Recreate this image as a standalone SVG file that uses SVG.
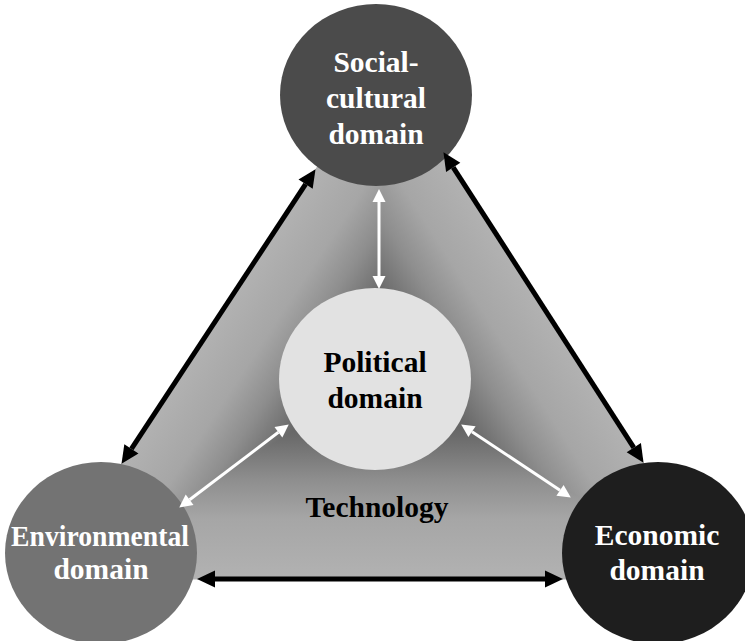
<svg xmlns="http://www.w3.org/2000/svg" width="745" height="641" viewBox="0 0 745 641">
  <defs>
    <style>
      .lbl { font-family: "Liberation Serif", "Times New Roman", serif; font-weight: bold; font-size: 29.5px; text-anchor: middle; }
      .w { fill: #ffffff; }
      .k { fill: #000000; }
      .blk { stroke: #000000; stroke-width: 5; fill: none; marker-start: url(#hk); marker-end: url(#hk); }
      .wht { stroke: #ffffff; stroke-width: 3; fill: none; marker-start: url(#hw); marker-end: url(#hw); }
    </style>
    <marker id="hk" markerUnits="userSpaceOnUse" markerWidth="18" markerHeight="18" viewBox="0 -8 17 16" refX="0" refY="0" orient="auto-start-reverse" overflow="visible">
      <path d="M0,-8 L17,0 L0,8 Z" fill="#000000"/>
    </marker>
    <marker id="hw" markerUnits="userSpaceOnUse" markerWidth="13" markerHeight="13" viewBox="0 -6 12 12" refX="0" refY="0" orient="auto-start-reverse" overflow="visible">
      <path d="M0,-6 L12,0 L0,6 Z" fill="#ffffff"/>
    </marker>
    <linearGradient id="gL" gradientUnits="userSpaceOnUse" x1="380" y1="380" x2="238" y2="286.5">
      <stop offset="0" stop-color="#4a4a4a"/>
      <stop offset="0.28" stop-color="#6a6a6a"/>
      <stop offset="0.5" stop-color="#8e8e8e"/>
      <stop offset="0.7" stop-color="#a6a6a6"/>
      <stop offset="1" stop-color="#b2b2b2"/>
    </linearGradient>
    <linearGradient id="gR" gradientUnits="userSpaceOnUse" x1="380" y1="380" x2="528.8" y2="284.2">
      <stop offset="0" stop-color="#4a4a4a"/>
      <stop offset="0.28" stop-color="#6a6a6a"/>
      <stop offset="0.5" stop-color="#8e8e8e"/>
      <stop offset="0.7" stop-color="#a6a6a6"/>
      <stop offset="1" stop-color="#b2b2b2"/>
    </linearGradient>
    <linearGradient id="gB" gradientUnits="userSpaceOnUse" x1="380" y1="380" x2="380" y2="579">
      <stop offset="0" stop-color="#4a4a4a"/>
      <stop offset="0.28" stop-color="#6a6a6a"/>
      <stop offset="0.5" stop-color="#8e8e8e"/>
      <stop offset="0.7" stop-color="#a6a6a6"/>
      <stop offset="1" stop-color="#b2b2b2"/>
    </linearGradient>
  </defs>

  <g id="technology">
    <polygon points="386,63 45.6,579 718,579" fill="#8a8a8a"/>
    <polygon points="380,380 386,63 45.6,579" fill="url(#gL)" stroke="url(#gL)" stroke-width="1"/>
    <polygon points="380,380 386,63 718,579" fill="url(#gR)" stroke="url(#gR)" stroke-width="1"/>
    <polygon points="380,380 45.6,579 718,579" fill="url(#gB)" stroke="url(#gB)" stroke-width="1"/>
    <text class="lbl k" x="377" y="517">Technology</text>
  </g>

  <g id="social-cultural">
    <ellipse cx="376" cy="95" rx="96" ry="91" fill="#4b4b4b"/>
    <text class="lbl w" x="376" y="72">Social-</text>
    <text class="lbl w" x="376" y="108">cultural</text>
    <text class="lbl w" x="376" y="144">domain</text>
  </g>

  <g id="political">
    <ellipse cx="375" cy="379" rx="96" ry="91" fill="#e2e2e2"/>
    <text class="lbl k" x="375" y="372">Political</text>
    <text class="lbl k" x="375" y="408">domain</text>
  </g>

  <g id="environmental">
    <ellipse cx="101" cy="553" rx="96" ry="91" fill="#737373"/>
    <text class="lbl w" x="100" y="546" textLength="178" lengthAdjust="spacingAndGlyphs">Environmental</text>
    <text class="lbl w" x="101" y="579">domain</text>
  </g>

  <g id="economic">
    <ellipse cx="658" cy="553" rx="96" ry="91" fill="#1e1e1e"/>
    <text class="lbl w" x="657" y="545">Economic</text>
    <text class="lbl w" x="657" y="580">domain</text>
  </g>

  <g id="connectors">
    <line class="blk" x1="131.4" y1="448.8" x2="305.6" y2="184.2"/>
    <line class="blk" x1="453.2" y1="167.3" x2="633.8" y2="447.7"/>
    <line class="blk" x1="215" y1="579" x2="545" y2="579"/>
    <line class="wht" x1="379" y1="202" x2="379" y2="276"/>
    <line class="wht" x1="189.6" y1="499.7" x2="278.4" y2="432.3"/>
    <line class="wht" x1="472" y1="431.7" x2="560" y2="490.3"/>
  </g>
</svg>
